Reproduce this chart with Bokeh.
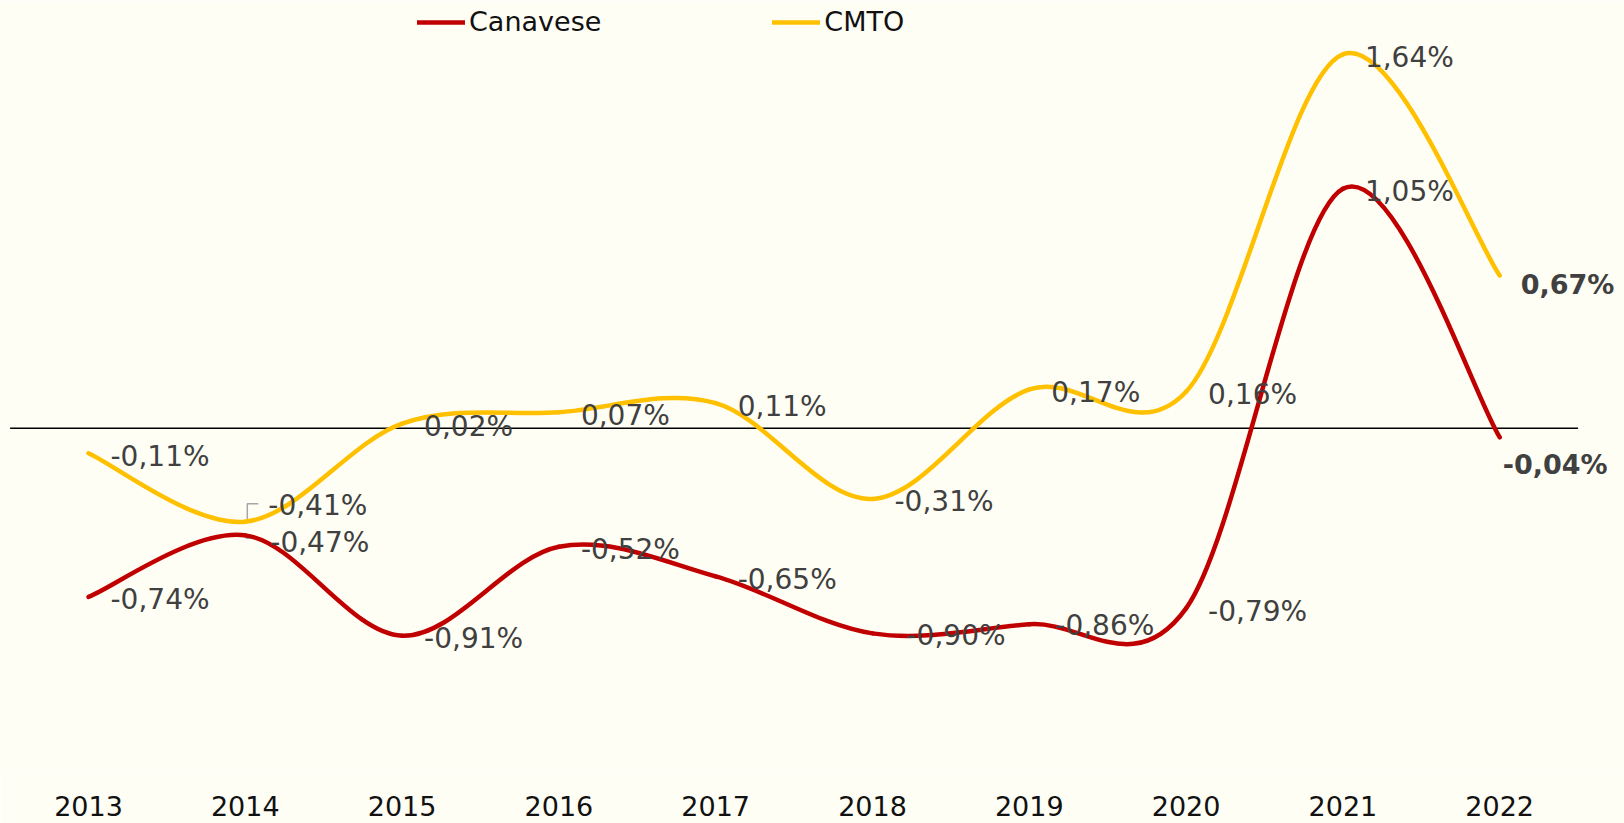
from bokeh.plotting import figure
from bokeh.models import Range1d, FixedTicker, Legend, LegendItem, ColumnDataSource
from bokeh.core.properties import value
from bokeh.embed import file_html
from bokeh.resources import INLINE

# ---------------- data ----------------
years = [2013, 2014, 2015, 2016, 2017, 2018, 2019, 2020, 2021, 2022]
canavese = [-0.74, -0.47, -0.91, -0.52, -0.65, -0.90, -0.86, -0.79, 1.05, -0.04]
cmto = [-0.11, -0.41, 0.02, 0.07, 0.11, -0.31, 0.17, 0.16, 1.64, 0.67]
series_names = ["Canavese", "CMTO"]

# ---------------- style ----------------
BG = "#FFFEF5"
RED = "#C00000"
YELLOW = "#FFC000"
LABEL_COLOR = "#404040"
FONT = "DejaVu Sans"
FS = "28px"
FS_AX = "27px"

W, H = 1624, 823
BOTTOM = 50
FH = H - BOTTOM
PX_YEAR = 156.8
LEFT_PAD = 88
PX_PCT = 228.0
ZERO_TOP = 427.7

x_range = Range1d(years[0] - LEFT_PAD / PX_YEAR, years[0] + (W - LEFT_PAD) / PX_YEAR)
y_range = Range1d(-(FH - ZERO_TOP) / PX_PCT, ZERO_TOP / PX_PCT)


def fmt(v):
    return ("%.2f" % v).replace(".", ",") + "%"


def bezier_source(xs, ys):
    n = len(xs)
    d = dict(x0=[], y0=[], x1=[], y1=[], cx0=[], cy0=[], cx1=[], cy1=[])
    for i in range(n - 1):
        a = max(i - 1, 0)
        b = min(i + 2, n - 1)
        d["x0"].append(xs[i]); d["y0"].append(ys[i])
        d["x1"].append(xs[i + 1]); d["y1"].append(ys[i + 1])
        d["cx0"].append(xs[i] + (xs[i + 1] - xs[a]) / 6.0)
        d["cy0"].append(ys[i] + (ys[i + 1] - ys[a]) / 6.0)
        d["cx1"].append(xs[i + 1] - (xs[b] - xs[i]) / 6.0)
        d["cy1"].append(ys[i + 1] - (ys[b] - ys[i]) / 6.0)
    return ColumnDataSource(d)


p = figure(width=W, height=H, x_range=x_range, y_range=y_range,
           output_backend="svg", toolbar_location=None,
           min_border_left=0, min_border_right=0, min_border_top=0,
           min_border_bottom=BOTTOM)
p.background_fill_color = BG
p.border_fill_color = BG
p.outline_line_color = None
p.grid.visible = False
p.yaxis.visible = False

ax = p.xaxis[0]
ax.ticker = FixedTicker(ticks=years)
ax.axis_line_color = None
ax.major_tick_line_color = None
ax.minor_tick_line_color = None
ax.major_label_text_font = FONT
ax.major_label_text_font_size = FS_AX
ax.major_label_text_color = "#111111"
ax.major_label_standoff = 16

# zero line
p.segment(x0=[years[0] - 0.5], y0=[0], x1=[years[-1] + 0.5], y1=[0],
          line_color="#000000", line_width=1.5)


# leader lines (2014 labels)
def px2x(px):
    return px / PX_YEAR


def px2y(px):
    return -px / PX_PCT


i14 = years.index(2014)
lx = years[i14]
p.multi_line(
    xs=[[lx + px2x(2), lx + px2x(2), lx + px2x(13)],
        [lx + px2x(1), lx + px2x(1), lx + px2x(13)]],
    ys=[[cmto[i14], cmto[i14] + px2y(-18), cmto[i14] + px2y(-18)],
        [canavese[i14], canavese[i14] + px2y(3), canavese[i14] + px2y(3)]],
    line_color="#A6A6A6", line_width=1.5)

r_can = p.bezier(source=bezier_source(years, canavese), x0="x0", y0="y0", x1="x1", y1="y1",
                 cx0="cx0", cy0="cy0", cx1="cx1", cy1="cy1",
                 line_color=RED, line_width=4.5, line_cap="round")
r_cmto = p.bezier(source=bezier_source(years, cmto), x0="x0", y0="y0", x1="x1", y1="y1",
                  cx0="cx0", cy0="cy0", cx1="cx1", cy1="cy1",
                  line_color=YELLOW, line_width=4.5, line_cap="round")

# data labels: pixel offsets (right of point, slightly lower)
can_dx = [22, 25, 22, 22, 22, 34, 26, 22, 22, 3]
can_dy = [3, 7, 3, 3, 3, 2, 1, 3, 3, 27]
cmto_dx = [22, 23, 22, 22, 22, 22, 22, 22, 22, 21]
cmto_dy = [3, -16, 3, 3, 3, 3, 3, 3, 3, 9]

for vals, dxs, dys in [(canavese, can_dx, can_dy), (cmto, cmto_dx, cmto_dy)]:
    n = len(years) - 1
    src = ColumnDataSource(dict(x=years[:n], y=vals[:n], t=[fmt(v) for v in vals[:n]],
                                xo=dxs[:n], yo=dys[:n]))
    p.text(x="x", y="y", text="t", x_offset="xo", y_offset="yo", source=src,
           text_font=value(FONT), text_font_size=FS, text_color=LABEL_COLOR,
           text_baseline="middle", text_align="left")
    src2 = ColumnDataSource(dict(x=years[n:], y=vals[n:], t=[fmt(v) for v in vals[n:]],
                                 xo=dxs[n:], yo=dys[n:]))
    p.text(x="x", y="y", text="t", x_offset="xo", y_offset="yo", source=src2,
           text_font=value(FONT), text_font_size="27px", text_color=LABEL_COLOR,
           text_font_style="bold", text_baseline="middle", text_align="left")

legend = Legend(items=[LegendItem(label=series_names[0], renderers=[r_can]),
                       LegendItem(label=series_names[1], renderers=[r_cmto])],
                orientation="horizontal", location=(417, FH - 37),
                glyph_width=48, glyph_height=30, label_height=30,
                label_standoff=4, spacing=171, padding=0, margin=0,
                border_line_color=None, background_fill_alpha=0,
                label_text_font=FONT, label_text_font_size=FS_AX,
                label_text_color="#111111")
p.add_layout(legend)

open("out.html", "w").write(file_html(p, INLINE))
